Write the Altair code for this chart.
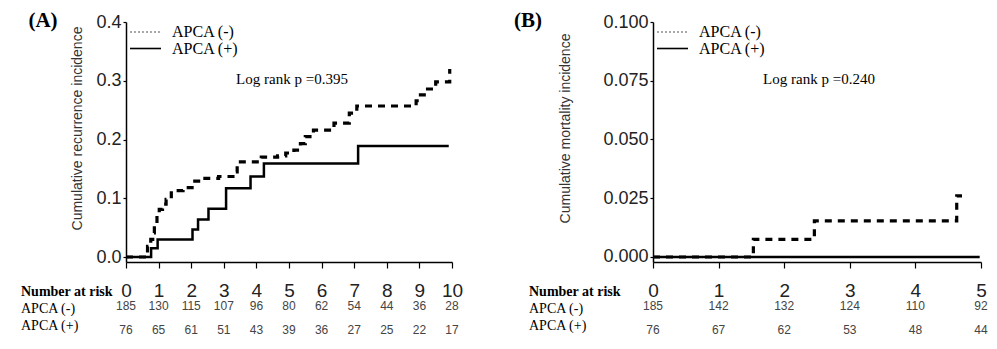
import altair as alt
import pandas as pd

SANS = "Liberation Sans"
SERIF = "Liberation Serif"
NARROW = "Liberation Sans Narrow, Liberation Sans, sans-serif"

# ---------------- Panel A: recurrence ----------------
a_neg_t = [0, 0.66, 0.76, 0.82, 0.87, 0.95, 1.02, 1.12, 1.23, 1.39, 1.75, 2.11, 2.42, 2.84,
           3.28, 3.41, 4.15, 4.65, 4.90, 5.15, 5.35, 5.50, 5.75, 6.38, 6.85, 7.08, 8.90,
           8.98, 9.25, 9.50, 9.93]
a_neg_v = [0, 0.018, 0.030, 0.041, 0.055, 0.070, 0.081, 0.090, 0.098, 0.113, 0.118, 0.129,
           0.134, 0.137, 0.145, 0.162, 0.170, 0.172, 0.177, 0.182, 0.193, 0.205, 0.216,
           0.228, 0.245, 0.257, 0.266, 0.276, 0.286, 0.298, 0.320]
a_pos_t = [0, 0.77, 0.97, 2.04, 2.21, 2.53, 3.07, 3.82, 4.23, 7.12, 9.90]
a_pos_v = [0, 0.015, 0.030, 0.047, 0.064, 0.082, 0.117, 0.137, 0.159, 0.189, 0.189]
a_risk_t = [0, 1, 2, 3, 4, 5, 6, 7, 8, 9, 10]
a_risk_neg = [185, 130, 115, 107, 96, 80, 62, 54, 44, 36, 28]
a_risk_pos = [76, 65, 61, 51, 43, 39, 36, 27, 25, 22, 17]
a_yticks = [0.0, 0.1, 0.2, 0.3, 0.4]

# ---------------- Panel B: mortality ----------------
b_neg_t = [0, 1.53, 2.46, 4.63, 4.71]
b_neg_v = [0, 0.0075, 0.0154, 0.026, 0.026]
b_pos_t = [0, 4.98]
b_pos_v = [0, 0]
b_risk_t = [0, 1, 2, 3, 4, 5]
b_risk_neg = [185, 142, 132, 124, 110, 92]
b_risk_pos = [76, 67, 62, 53, 48, 44]
b_yticks = [0.0, 0.025, 0.05, 0.075, 0.1]

H = 240


def txt(label, x, y, size, font=SERIF, weight="normal", align="left", color="black"):
    return alt.Chart(pd.DataFrame({"s": [label]})).mark_text(
        font=font, fontSize=size, fontWeight=weight, align=align,
        baseline="middle", color=color
    ).encode(x=alt.value(x), y=alt.value(y), text="s:N")


def panel(neg_t, neg_v, pos_t, pos_v, xmax, ymin, ymax, yticks, yfmt, ytitle, title_x,
          risk_t, risk_neg, risk_pos, tag, tag_x, rowlab_x, pval, width):
    xs = alt.Scale(domain=[0, xmax], nice=False, zero=False)
    ys = alt.Scale(domain=[ymin, ymax], nice=False, zero=False)
    xvals = [i * 0.25 for i in range(int(xmax * 4) + 1)]
    xaxis = alt.Axis(
        values=xvals, title=None, grid=False,
        labelExpr="datum.value % 1 === 0 ? datum.label : ''",
        format="d", labelFont=SANS, labelFontSize=19, labelColor="#222",
        labelFlush=False, labelOverlap=False, labelPadding=13,
        tickSize={"condition": {"test": "datum.value % 1 === 0", "value": 6}, "value": 4},
        tickColor="black", tickWidth=1.2, domainColor="black", domainWidth=1.5,
    )
    yaxis = alt.Axis(
        values=yticks, format=yfmt, grid=False, title=ytitle,
        labelFont=SANS, labelFontSize=18, labelColor="#222", labelPadding=2,
        tickSize=3, tickColor="black", tickWidth=1.2,
        domainColor="black", domainWidth=1.5,
        titleFont=SANS, titleFontSize=14, titleFontWeight="normal", titleColor="#333",
        titleAngle=270, titleX=title_x, titleY=106, titleAlign="center",
        titleBaseline="middle",
    )
    df_neg = pd.DataFrame({"t": neg_t, "v": neg_v})
    df_pos = pd.DataFrame({"t": pos_t, "v": pos_v})
    l_neg = alt.Chart(df_neg).mark_line(
        interpolate="step-after", color="black", strokeWidth=3.2, strokeDash=[7, 6]
    ).encode(x=alt.X("t:Q", scale=xs, axis=xaxis), y=alt.Y("v:Q", scale=ys, axis=yaxis))
    l_pos = alt.Chart(df_pos).mark_line(
        interpolate="step-after", color="black", strokeWidth=2.5
    ).encode(x=alt.X("t:Q", scale=xs, axis=xaxis), y=alt.Y("v:Q", scale=ys, axis=yaxis))

    leg_dot = alt.Chart(pd.DataFrame({"a": [0]})).mark_rule(
        color="#555", strokeWidth=1.2, strokeDash=[2, 2]
    ).encode(x=alt.value(4), x2=alt.value(35), y=alt.value(10))
    leg_sol = alt.Chart(pd.DataFrame({"a": [0]})).mark_rule(
        color="black", strokeWidth=1.6
    ).encode(x=alt.value(4), x2=alt.value(35), y=alt.value(26.5))

    r_neg = alt.Chart(pd.DataFrame({"t": risk_t, "n": risk_neg})).mark_text(
        font=NARROW, fontSize=12, color="#444", baseline="middle"
    ).encode(x=alt.X("t:Q", scale=xs, axis=xaxis), y=alt.value(284), text="n:Q")
    r_pos = alt.Chart(pd.DataFrame({"t": risk_t, "n": risk_pos})).mark_text(
        font=NARROW, fontSize=12, color="#444", baseline="middle"
    ).encode(x=alt.X("t:Q", scale=xs, axis=xaxis), y=alt.value(308), text="n:Q")

    layers = [
        l_neg, l_pos, leg_dot, leg_sol,
        txt("APCA (-)", 46, 10, 16),
        txt("APCA (+)", 46, 26.5, 16),
        txt(pval, 166, 57, 15, align="center"),
        txt(tag, tag_x, -1, 21, weight="bold", align="center"),
        txt("Number at risk", rowlab_x, 270, 14, weight="bold"),
        txt("APCA (-)", rowlab_x, 287, 14),
        txt("APCA (+)", rowlab_x, 304, 14),
        r_neg, r_pos,
    ]
    return alt.layer(*layers).properties(width=width, height=H)


A = panel(a_neg_t, a_neg_v, a_pos_t, a_pos_v, 10, -0.0085, 0.4, a_yticks, ".1f",
          "Cumulative recurrence incidence", -49,
          a_risk_t, a_risk_neg, a_risk_pos, "(A)", -83, -105, "Log rank p =0.395", 326)
B = panel(b_neg_t, b_neg_v, b_pos_t, b_pos_v, 5, -0.00213, 0.1, b_yticks, ".3f",
          "Cumulative mortality incidence", -88,
          b_risk_t, b_risk_neg, b_risk_pos, "(B)", -125, -124, "Log rank p =0.240", 328)

chart = alt.hconcat(A, B, spacing=201, bounds="flush").properties(
    padding={"left": 21, "top": 10, "right": 5, "bottom": 5},
    background="white",
).configure_view(stroke=None)

chart.save("out.html", embed_options={"renderer": "svg", "actions": False})
